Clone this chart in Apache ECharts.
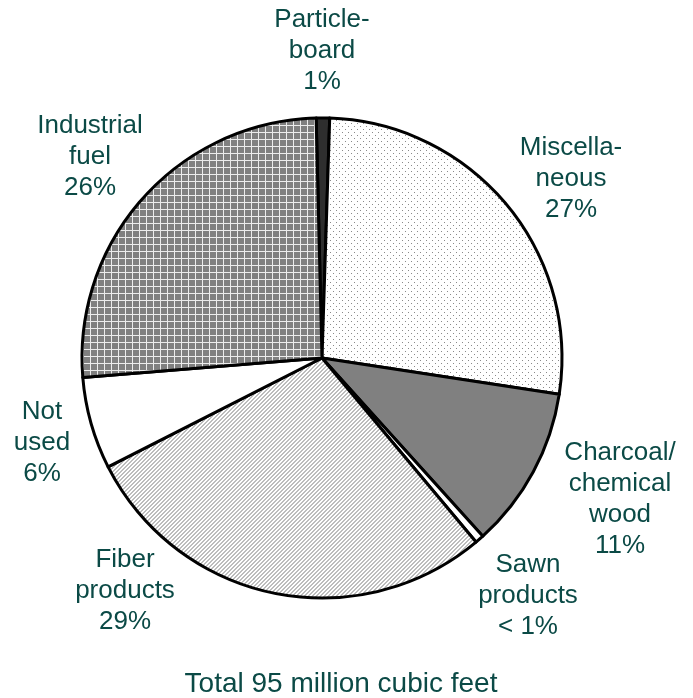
<!DOCTYPE html>
<html><head><meta charset="utf-8">
<script src="https://cdn.jsdelivr.net/npm/echarts@6/dist/echarts.min.js"></script>
<style>html,body{margin:0;padding:0;background:#fff}#c{width:693px;height:698px}</style>
</head><body><div id="c"></div>
<script>
const categories = ['Particle-\nboard', 'Miscella-\nneous', 'Charcoal/\nchemical\nwood', 'Sawn\nproducts', 'Fiber\nproducts', 'Not\nused', 'Industrial\nfuel'];
const values = [0.9, 26.9, 10.9, 0.6, 28.6, 6.2, 25.9];
const pctLabels = ['1%', '27%', '11%', '< 1%', '29%', '6%', '26%'];
const titleText = 'Total 95 million cubic feet';
const labelPos = [[322, 51], [571, 179], [620, 499], [528, 596], [125, 591], [42, 443], [90, 157]];

function pattern(w, h, draw) {
  const c = document.createElement('canvas');
  c.width = w; c.height = h;
  const g = c.getContext('2d');
  draw(g, w, h);
  return { image: c, repeat: 'repeat' };
}
const dots = pattern(6, 6, (g) => {
  g.fillStyle = '#fff'; g.fillRect(0, 0, 6, 6);
  g.fillStyle = '#8a8a8a'; g.fillRect(0, 0, 1, 1); g.fillRect(3, 3, 1, 1);
});
const grid = pattern(7, 7, (g) => {
  g.fillStyle = '#808080'; g.fillRect(0, 0, 7, 7);
  g.fillStyle = '#ececec'; g.fillRect(0, 6, 7, 1); g.fillRect(6, 0, 1, 7);
});
const diag = pattern(4, 4, (g) => {
  g.fillStyle = '#fff'; g.fillRect(0, 0, 4, 4);
  g.fillStyle = '#bdbdbd';
  for (let i = 0; i < 4; i++) { g.fillRect(i, 3 - i, 1, 1); g.fillRect((i + 1) % 4, 3 - i, 1, 1); }
});
const fills = ['#2e2e2e', dots, '#808080', '#ffffff', diag, '#ffffff', grid];

const chart = echarts.init(document.getElementById('c'), null, { renderer: 'canvas' });
const textColor = '#0b4a46';
chart.setOption({
  animation: false,
  backgroundColor: '#fff',
  title: {
    text: titleText, left: 336, top: 679, textAlign: 'center', textVerticalAlign: 'middle',
    textStyle: { fontFamily: 'Liberation Sans, Arial, sans-serif', fontSize: 28, fontWeight: 'normal', color: textColor }
  },
  series: [{
    type: 'pie',
    center: [322, 358],
    radius: 240,
    startAngle: 91.4,
    clockwise: true,
    avoidLabelOverlap: false,
    data: categories.map((n, i) => ({ name: n, value: values[i], itemStyle: { color: fills[i] } })),
    itemStyle: { borderColor: '#000', borderWidth: 3 },
    label: {
      show: true, position: 'outside',
      formatter: (p) => p.name + '\n' + pctLabels[p.dataIndex],
      fontFamily: 'Liberation Sans, Arial, sans-serif', fontSize: 26, lineHeight: 31,
      color: textColor, align: 'center'
    },
    labelLine: { show: false },
    labelLayout: (p) => ({ x: labelPos[p.dataIndex][0], y: labelPos[p.dataIndex][1], align: 'center', verticalAlign: 'middle' }),
    emphasis: { disabled: true }
  }]
});
</script></body></html>
